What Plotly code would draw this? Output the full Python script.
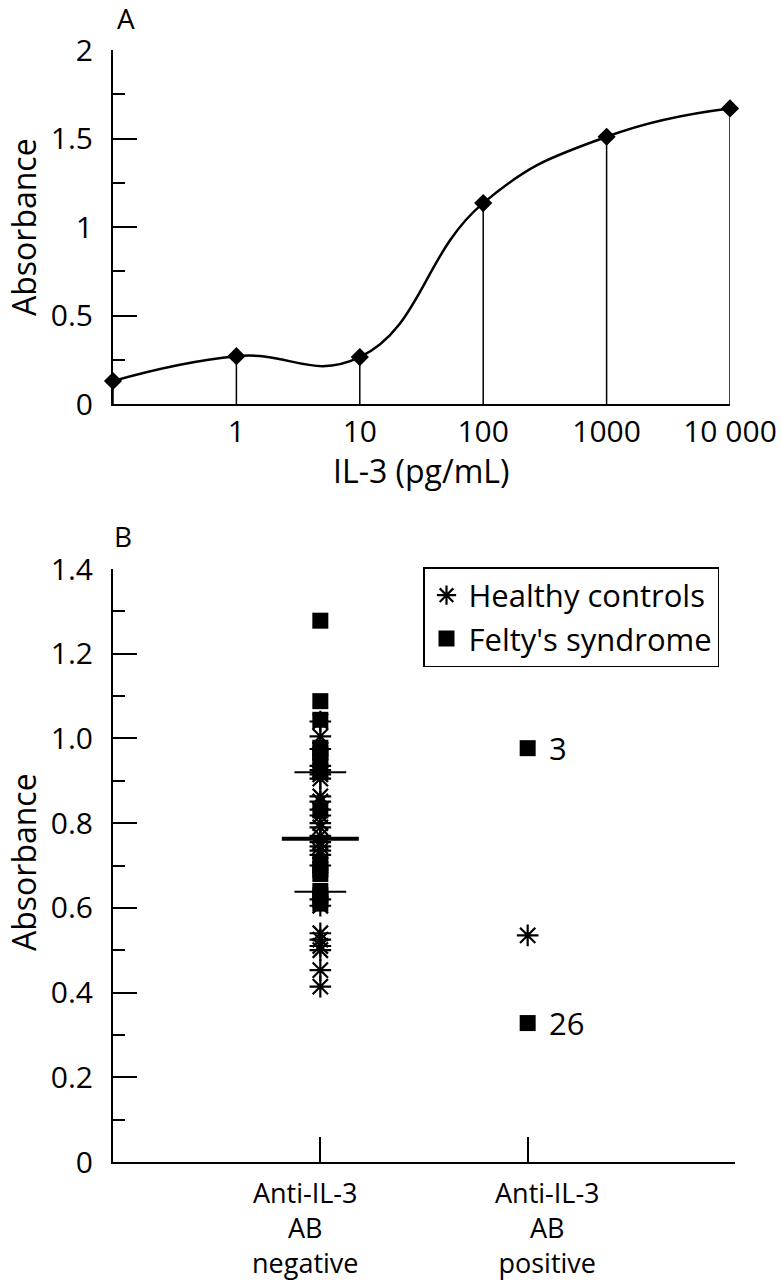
import plotly.graph_objects as go

# ---------------- Panel A data ----------------
il3_conc = [0.1, 1, 10, 100, 1000, 10000]
il3_abs = [0.13, 0.27, 0.265, 1.135, 1.51, 1.67]
a_xtick_vals = [1, 10, 100, 1000, 10000]
a_xtick_text = ["1", "10", "100", "1000", "10 000"]
a_ytick_vals = [0, 0.5, 1, 1.5, 2]
a_ytick_text = ["0", "0.5", "1", "1.5", "2"]

# ---------------- Panel B data ----------------
group_labels = ["Anti-IL-3<br>AB<br>negative", "Anti-IL-3<br>AB<br>positive"]
healthy_neg = [1.04, 1.005, 0.975, 0.935, 0.925, 0.915, 0.905, 0.863, 0.851,
               0.832, 0.818, 0.80, 0.79, 0.77, 0.755, 0.745, 0.735, 0.725,
               0.70, 0.62, 0.605, 0.54, 0.525, 0.51, 0.50, 0.453, 0.414]
healthy_pos = [0.535]
felty_neg = [1.278, 1.088, 1.044, 0.978, 0.965, 0.955, 0.92, 0.83, 0.705,
             0.69, 0.68, 0.64, 0.63, 0.62, 0.61]
felty_pos = [0.977, 0.328]
felty_pos_labels = ["3", "26"]
neg_mean = [0.763]
neg_sd_bounds = [0.920, 0.638]
b_ytick_vals = [0, 0.2, 0.4, 0.6, 0.8, 1.0, 1.2, 1.4]
b_ytick_text = ["0", "0.2", "0.4", "0.6", "0.8", "1.0", "1.2", "1.4"]
series_names = ["Healthy controls", "Felty's syndrome"]

FONT = "Open Sans"
W, H = 781, 1280

fig = go.Figure()

# Panel A curve with drop lines
fig.add_trace(go.Scatter(
    x=il3_conc, y=il3_abs, mode="lines+markers",
    line=dict(shape="spline", smoothing=1.3, color="black", width=2.5),
    marker=dict(symbol="diamond", size=14, color="black"),
    error_y=dict(type="data", symmetric=False, array=[0] * len(il3_abs),
                 arrayminus=il3_abs, width=0, thickness=1.5, color="black"),
    cliponaxis=False, showlegend=False, xaxis="x", yaxis="y"))

# Panel B scatter
fig.add_trace(go.Scatter(
    x=[0] * len(healthy_neg) + [1] * len(healthy_pos),
    y=healthy_neg + healthy_pos, mode="markers", name=series_names[0],
    marker=dict(symbol="asterisk", size=18, color="black",
                line=dict(color="black", width=2.2)),
    xaxis="x2", yaxis="y2"))
fig.add_trace(go.Scatter(
    x=[0] * len(felty_neg) + [1] * len(felty_pos),
    y=felty_neg + felty_pos, mode="markers", name=series_names[1],
    marker=dict(symbol="square", size=16, color="black",
                line=dict(width=0)),
    xaxis="x2", yaxis="y2"))

# mean and SD lines
fig.add_trace(go.Scatter(
    x=[0] * len(neg_mean), y=neg_mean, mode="markers", showlegend=False,
    marker=dict(symbol="line-ew", size=55, line=dict(color="black", width=4)),
    xaxis="x2", yaxis="y2"))
fig.add_trace(go.Scatter(
    x=[0] * len(neg_sd_bounds), y=neg_sd_bounds, mode="markers", showlegend=False,
    marker=dict(symbol="line-ew", size=37, line=dict(color="black", width=2)),
    xaxis="x2", yaxis="y2"))

annotations = []
for v, lab in zip(felty_pos, felty_pos_labels):
    annotations.append(dict(x=1, y=v, xref="x2", yref="y2", text=lab,
                            showarrow=False, xanchor="left", yanchor="middle",
                            xshift=19,
                            font=dict(size=31, family=FONT, color="black")))
label_shifts = [-15, 20]
for i, lab in enumerate(group_labels):
    annotations.append(dict(x=i, y=0, xref="x2", yref="y2", text=lab,
                            showarrow=False, xanchor="center", yanchor="top",
                            xshift=label_shifts[i], yshift=-10,
                            font=dict(size=27, family=FONT, color="black")))
# panel letters and axis titles
txt = dict(xref="paper", yref="paper", showarrow=False,
           xanchor="center", yanchor="middle")
annotations += [
    dict(x=126 / W, y=1 - 18 / H, text="A",
         font=dict(size=28, family=FONT, color="black"), **txt),
    dict(x=123 / W, y=1 - 536 / H, text="B",
         font=dict(size=28, family=FONT, color="black"), **txt),
    dict(x=23 / W, y=1 - 227 / H, text="Absorbance", textangle=-90,
         borderpad=0, font=dict(size=32, family=FONT, color="black"), **txt),
    dict(x=23 / W, y=1 - 862 / H, text="Absorbance", textangle=-90,
         borderpad=0, font=dict(size=32, family=FONT, color="black"), **txt),
    dict(x=421 / W, y=1 - 470 / H, text="IL-3 (pg/mL)",
         font=dict(size=32, family=FONT, color="black"), **txt),
]

axis_common = dict(showgrid=False, zeroline=False, showline=True,
                   linecolor="black", linewidth=2, color="black",
                   automargin=False,
                   tickfont=dict(size=30, family=FONT, color="black"))

fig.update_layout(
    width=W, height=H, margin=dict(l=0, r=0, t=0, b=0, autoexpand=False),
    paper_bgcolor="white", plot_bgcolor="white",
    font=dict(family=FONT, color="black"),
    xaxis=dict(domain=[113 / W, 730 / W], type="log", range=[-1, 4],
               tickvals=a_xtick_vals, ticktext=a_xtick_text, ticks="",
               ticklabelstandoff=0, anchor="y", **axis_common),
    yaxis=dict(domain=[1 - 404 / H, 1 - 50 / H], range=[0, 2],
               tickvals=a_ytick_vals, ticktext=a_ytick_text,
               ticks="inside", ticklen=24, tickwidth=2, tickcolor="black",
               minor=dict(ticks="inside", ticklen=12, tickwidth=2,
                          tickcolor="black", dtick=0.25),
               ticklabelstandoff=12, anchor="x", **axis_common),
    xaxis2=dict(domain=[113 / W, 735 / W], range=[-1, 2],
                tickvals=[0, 1, 2], showticklabels=False,
                ticks="inside", ticklen=25, tickwidth=1.5, tickcolor="black",
                anchor="y2", **axis_common),
    yaxis2=dict(domain=[1 - 1162 / H, 1 - 569 / H], range=[0, 1.4],
                tickvals=b_ytick_vals, ticktext=b_ytick_text,
                ticks="inside", ticklen=24, tickwidth=2, tickcolor="black",
                minor=dict(ticks="inside", ticklen=12, tickwidth=2,
                           tickcolor="black", dtick=0.1),
                ticklabelstandoff=12, anchor="x2", **axis_common),
    legend=dict(x=423 / W, y=1 - 567 / H, xanchor="left", yanchor="top",
                bordercolor="black", borderwidth=1.5, bgcolor="white",
                font=dict(size=31, family=FONT, color="black"),
                itemwidth=34, tracegroupgap=0),
    annotations=annotations,
)

fig.write_html("out.html", config={"displayModeBar": False},
               post_script="document.body.style.margin='0';")
